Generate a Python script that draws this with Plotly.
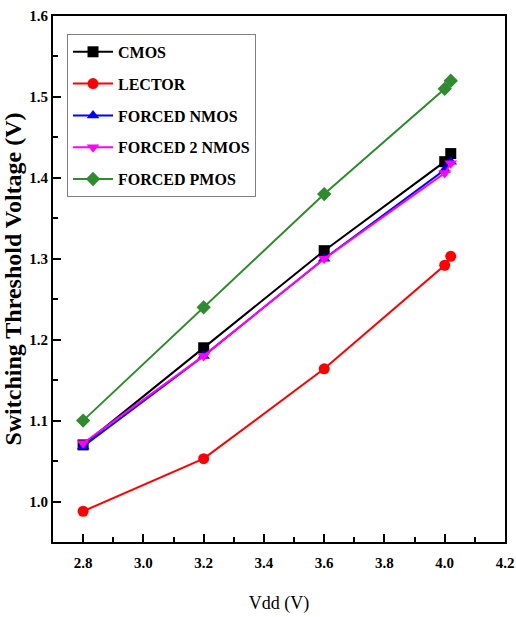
import plotly.graph_objects as go

vdd = [2.8, 3.2, 3.6, 4.0, 4.02]
cmos = [1.07, 1.19, 1.31, 1.42, 1.43]
lector = [0.988, 1.053, 1.164, 1.292, 1.303]
forced_nmos = [1.068, 1.18, 1.30, 1.41, 1.42]
forced_2nmos = [1.072, 1.18, 1.30, 1.406, 1.418]
forced_pmos = [1.10, 1.24, 1.38, 1.51, 1.52]

series = [
    ("CMOS", cmos, "#000000", "square"),
    ("LECTOR", lector, "#FF0000", "circle"),
    ("FORCED NMOS", forced_nmos, "#0000FF", "triangle-up"),
    ("FORCED 2 NMOS", forced_2nmos, "#FF00FF", "triangle-down"),
    ("FORCED PMOS", forced_pmos, "#2E8B2E", "diamond"),
]

fig = go.Figure()
for i, (name, vals, color, sym) in enumerate(series):
    fig.add_trace(go.Scatter(
        x=vdd, y=vals, name=name, mode="lines+markers",
        line=dict(color=color, width=2),
        marker=dict(symbol=sym, size=11, color=color),
        legendgroup=f"g{i}",
    ))

serif = "Liberation Serif"
fig.update_layout(
    width=516, height=617,
    margin=dict(l=53, r=11, t=16, b=75),
    paper_bgcolor="white", plot_bgcolor="white",
    font=dict(family=serif, color="black"),
    showlegend=True,
    legend=dict(
        x=0.031, y=0.966, xanchor="left", yanchor="top",
        bordercolor="#808080", borderwidth=1, bgcolor="white",
        font=dict(family=serif, size=16, color="black", weight="bold"),
        tracegroupgap=8, itemwidth=40,
    ),
    xaxis=dict(
        range=[2.7, 4.2], tickvals=[2.8, 3.0, 3.2, 3.4, 3.6, 3.8, 4.0, 4.2],
        ticktext=["2.8", "3.0", "3.2", "3.4", "3.6", "3.8", "4.0", "4.2"],
        ticks="inside", ticklen=8, tickwidth=2, tickcolor="black",
        minor=dict(dtick=0.1, tick0=2.7, ticks="inside", ticklen=5, tickwidth=2, tickcolor="black"),
        showline=True, linecolor="black", linewidth=2, mirror=True,
        showgrid=False, zeroline=False, ticklabelstandoff=6, automargin=False,
        tickfont=dict(family=serif, size=15, weight="bold"),
        title=dict(text="Vdd (V)", font=dict(family=serif, size=18), standoff=26),
    ),
    yaxis=dict(
        range=[0.95, 1.6], tickvals=[1.0, 1.1, 1.2, 1.3, 1.4, 1.5, 1.6],
        ticktext=["1.0", "1.1", "1.2", "1.3", "1.4", "1.5", "1.6"],
        ticks="inside", ticklen=8, tickwidth=2, tickcolor="black",
        minor=dict(dtick=0.05, tick0=0.95, ticks="inside", ticklen=5, tickwidth=2, tickcolor="black"),
        showline=True, linecolor="black", linewidth=2, mirror=True,
        showgrid=False, zeroline=False, automargin=False,
        tickfont=dict(family=serif, size=15, weight="bold"),
        title=dict(text="Switching Threshold Voltage (V)",
                   font=dict(family=serif, size=24, weight="bold"), standoff=4),
    ),
)

fig.write_html("out.html")
